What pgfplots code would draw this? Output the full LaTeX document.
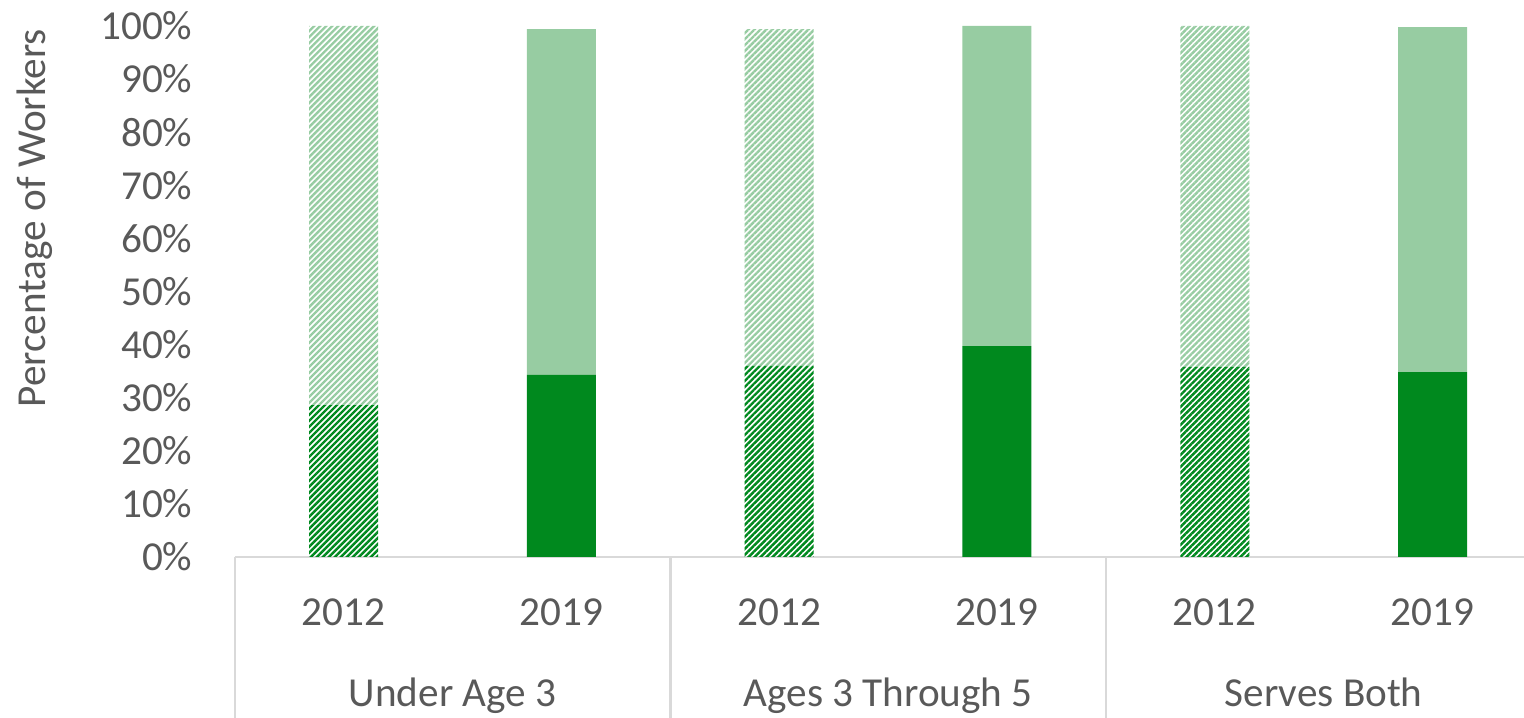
\documentclass[border=0pt]{standalone}
\usepackage{pgfplots}
\pgfplotsset{compat=1.18}
\usepackage{fontspec}
\setmainfont{Carlito}
\usetikzlibrary{patterns.meta}
\definecolor{darkg}{RGB}{0,137,30}
\definecolor{lightg}{RGB}{151,204,162}
\definecolor{txt}{RGB}{89,89,89}
\definecolor{axg}{RGB}{217,217,217}
\tikzset{
  hatchdark/.style={pattern={Lines[angle=45,distance=1.06pt,line width=0.6pt]}, pattern color=darkg, draw=none},
  hatchlight/.style={pattern={Lines[angle=45,distance=1.06pt,line width=0.6pt]}, pattern color=lightg, draw=none},
}
\begin{document}
\begin{tikzpicture}
\begin{axis}[
  at={(0pt,0pt)}, anchor=south west,
  scale only axis, width=322.3pt, height=132.75pt,
  xmin=-0.5, xmax=5.42, ymin=0, ymax=100,
  ybar stacked, bar width=17.25pt,
  clip=false,
  font=\fontsize{10.3}{12.4}\selectfont,
  axis x line*=bottom, axis y line*=left,
  x axis line style={draw=axg, line width=0.6pt},
  y axis line style={draw=none},
  xtick={0,1,2,3,4,5},
  xticklabels={2012,2019,2012,2019,2012,2019},
  xtick style={draw=none},
  ytick={0,10,...,100},
  yticklabel={\pgfmathprintnumber{\tick}\%},
  ytick style={draw=none},
  major tick length=0pt,
  /pgf/number format/assume math mode=true,
  xticklabel style={anchor=base, yshift=-17pt, text=txt, inner sep=0pt},
  yticklabel style={anchor=east, xshift=-10.4pt, text=txt, inner sep=0pt},
  extra x ticks={-0.5,1.5,3.5},
  extra x tick labels={},
  extra x tick style={major tick length=40.25pt, tick align=outside, xtick style={draw=axg, line width=0.6pt}},
  ylabel={Percentage of Workers},
  ylabel style={at={(axis description cs:-0.1548,0.638)}, anchor=center, text=txt},
]
\addplot[hatchdark] coordinates {(0,28.6) (1,0) (2,36.0) (3,0) (4,35.8) (5,0)};
\addplot[fill=darkg, draw=none] coordinates {(0,0) (1,34.3) (2,0) (3,39.7) (4,0) (5,34.8)};
\addplot[hatchlight] coordinates {(0,71.4) (1,0) (2,63.4) (3,0) (4,64.2) (5,0)};
\addplot[fill=lightg, draw=none] coordinates {(0,0) (1,65.1) (2,0) (3,60.3) (4,0) (5,65.0)};
\node[anchor=base, text=txt, inner sep=0pt] at (axis cs:0.5,0) [yshift=-37.5pt] {Under Age 3};
\node[anchor=base, text=txt, inner sep=0pt] at (axis cs:2.5,0) [yshift=-37.5pt] {Ages 3 Through 5};
\node[anchor=base, text=txt, inner sep=0pt] at (axis cs:4.5,0) [yshift=-37.5pt] {Serves Both};
\end{axis}
\pgfresetboundingbox
\path[use as bounding box] (-58.7pt,-40.25pt) rectangle (322.3pt,139.25pt);
\end{tikzpicture}
\end{document}
